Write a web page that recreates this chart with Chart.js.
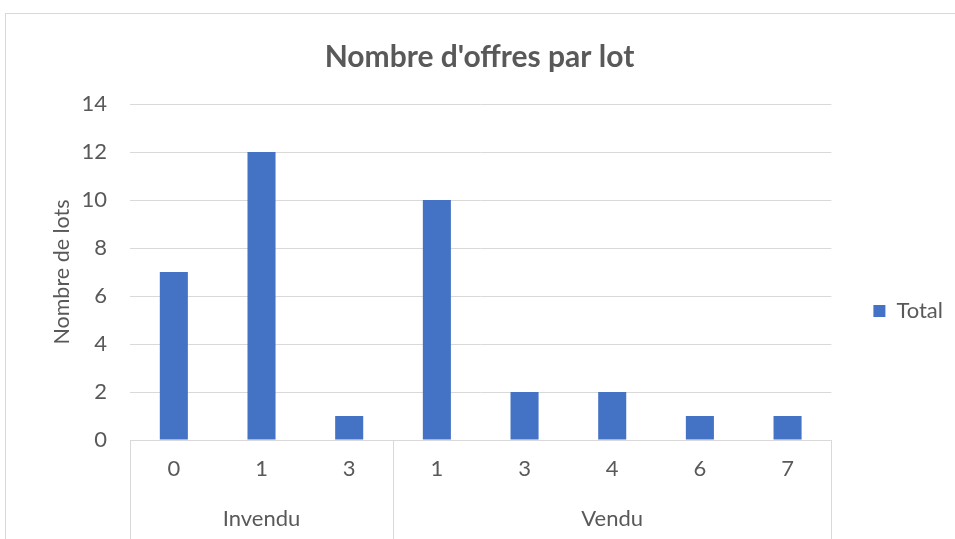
<!DOCTYPE html>
<html>
<head>
<meta charset="utf-8">
<script src="https://cdn.jsdelivr.net/npm/chart.js@4"></script>
<style>
  html, body { margin: 0; padding: 0; background: #fff; overflow: hidden; }
  #box { position: absolute; left: 5px; top: 13px; width: 1000px; height: 600px; border: 1px solid #d9d9d9; }
  #chart { display: block; }
</style>
</head>
<body>
<div id="box"><canvas id="chart" width="1000" height="594"></canvas></div>
<script>
// Nombre d'offres par lot - pivot chart with two category levels

const categories = ['0', '1', '3', '1', '3', '4', '6', '7'];
const categoryGroups = ['Invendu', 'Invendu', 'Invendu', 'Vendu', 'Vendu', 'Vendu', 'Vendu', 'Vendu'];
const totals = [7, 12, 1, 10, 2, 2, 1, 1];
const yTicks = [0, 2, 4, 6, 8, 10, 12, 14];

const FONT = "Lato, 'Noto Sans', sans-serif";
const TEXT = '#595959';
const LINE = '#d9d9d9';

// draws the group separators and the second row of labels (Invendu / Vendu)
const groupAxis = {
  id: 'groupAxis',
  afterDraw(chart) {
    const { ctx, chartArea, scales: { x } } = chart;
    const bottom = chart.height;
    const edges = [chartArea.left];
    const groups = [];
    let start = 0;
    for (let i = 1; i <= categoryGroups.length; i++) {
      if (i === categoryGroups.length || categoryGroups[i] !== categoryGroups[start]) {
        const left = start === 0 ? chartArea.left : (x.getPixelForValue(start - 1) + x.getPixelForValue(start)) / 2;
        const right = i === categoryGroups.length ? chartArea.right : (x.getPixelForValue(i - 1) + x.getPixelForValue(i)) / 2;
        groups.push({ name: categoryGroups[start], center: (left + right) / 2 });
        edges.push(right);
        start = i;
      }
    }
    ctx.save();
    ctx.strokeStyle = LINE;
    ctx.lineWidth = 1;
    edges.forEach(px => {
      const xx = Math.round(px) + 0.5;
      ctx.beginPath();
      ctx.moveTo(xx, chartArea.bottom);
      ctx.lineTo(xx, bottom);
      ctx.stroke();
    });
    ctx.fillStyle = TEXT;
    ctx.font = '22px ' + FONT;
    ctx.textAlign = 'center';
    ctx.textBaseline = 'middle';
    groups.forEach(g => ctx.fillText(g.name, g.center, chartArea.bottom + 79));
    ctx.restore();
  }
};

new Chart(document.getElementById('chart'), {
  type: 'bar',
  data: {
    labels: categories,
    datasets: [{
      label: 'Total',
      data: totals,
      backgroundColor: '#4472c4',
      borderWidth: 0,
      categoryPercentage: 1,
      barPercentage: 0.32
    }]
  },
  options: {
    responsive: false,
    animation: false,
    layout: { padding: { left: 0, right: 53, top: 0, bottom: 0 } },
    plugins: {
      title: {
        display: true,
        text: "Nombre d'offres par lot",
        color: TEXT,
        font: { family: FONT, size: 30, weight: 'bold' },
        padding: { top: 25, bottom: 29 }
      },
      legend: {
        position: 'right',
        labels: {
          color: TEXT,
          font: { family: FONT, size: 22 },
          boxWidth: 12,
          boxHeight: 12,
          padding: 42
        }
      },
      tooltip: { enabled: false }
    },
    scales: {
      x: {
        grid: { display: false, drawTicks: false },
        border: { display: true, color: LINE },
        ticks: { color: TEXT, font: { family: FONT, size: 22 }, padding: 16 },
        afterFit: axis => { axis.height = 168; }
      },
      y: {
        min: 0,
        max: 14,
        afterBuildTicks: axis => { axis.ticks = yTicks.map(v => ({ value: v })); },
        grid: { color: LINE, drawTicks: false },
        border: { display: false },
        ticks: { color: TEXT, font: { family: FONT, size: 22 }, padding: 23 },
        title: {
          display: true,
          text: 'Nombre de lots',
          color: TEXT,
          font: { family: FONT, size: 21.5 },
          padding: { top: 43, bottom: 0 }
        },
        afterFit: axis => { axis.width = 124; }
      }
    }
  },
  plugins: [groupAxis]
});
</script>
</body>
</html>
